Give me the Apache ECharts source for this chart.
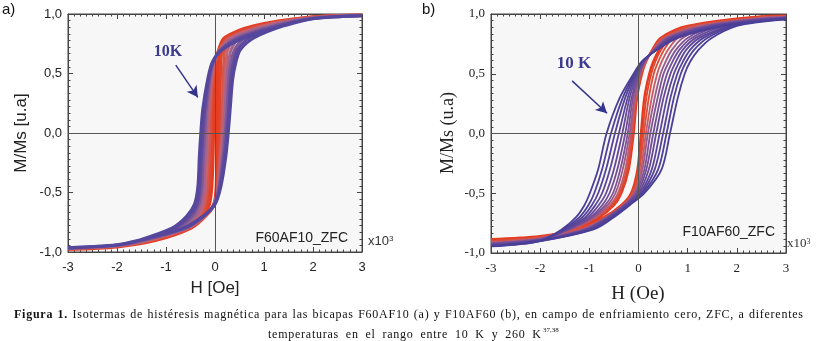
<!DOCTYPE html>
<html>
<head>
<meta charset="utf-8">
<script src="https://cdn.jsdelivr.net/npm/echarts@6.0.0/dist/echarts.min.js"></script>
<style>
  html, body { margin: 0; padding: 0; background: #fff; }
  #chart { width: 817px; height: 341px; }
</style>
</head>
<body>
<div id="chart"></div>
<script>
// H in units of 10^3 Oe, M/Ms normalised
const hTicks = [-3, -2, -1, 0, 1, 2, 3];
const mTicks = [-1, -0.5, 0, 0.5, 1];

// ---- panel a: F60AF10_ZFC, curves from 10 K (first) to 260 K (last) ----
const tempsA = ['10 K', '40 K', '70 K', '100 K', '130 K', '160 K', '200 K', '260 K'];
// descending branch: H read at these M values
const mDownA = [0.9, 0.8, 0.7, 0.6, 0.45, 0.2, 0, -0.2, -0.45, -0.6, -0.7, -0.8, -0.9];
const hDownA = [
  [1.4, 0.6, 0.15, -0.05, -0.15, -0.25, -0.29, -0.32, -0.35, -0.42, -0.58, -0.88, -1.55],
  [1.3, 0.52, 0.13, -0.04, -0.13, -0.21, -0.25, -0.28, -0.31, -0.37, -0.52, -0.82, -1.5],
  [1.2, 0.45, 0.12, -0.03, -0.11, -0.18, -0.21, -0.24, -0.27, -0.33, -0.46, -0.76, -1.45],
  [1.1, 0.38, 0.11, -0.02, -0.09, -0.15, -0.175, -0.2, -0.23, -0.28, -0.4, -0.7, -1.4],
  [1.0, 0.32, 0.1, -0.01, -0.07, -0.12, -0.14, -0.16, -0.19, -0.24, -0.35, -0.64, -1.35],
  [0.95, 0.28, 0.09, 0.0, -0.05, -0.09, -0.105, -0.12, -0.15, -0.2, -0.3, -0.6, -1.3],
  [0.88, 0.24, 0.085, 0.01, -0.03, -0.055, -0.07, -0.085, -0.11, -0.16, -0.27, -0.56, -1.25],
  [0.8, 0.2, 0.08, 0.02, -0.01, -0.025, -0.035, -0.045, -0.07, -0.12, -0.24, -0.52, -1.2]
];
// ascending branch: H read at these M values
const mUpA = [-0.9, -0.8, -0.7, -0.6, -0.45, -0.2, 0, 0.2, 0.45, 0.6, 0.7, 0.8, 0.9];
const hUpA = [
  [-1.55, -0.65, -0.25, 0.0, 0.12, 0.22, 0.27, 0.31, 0.36, 0.43, 0.52, 0.8, 1.4],
  [-1.5, -0.62, -0.24, -0.01, 0.1, 0.19, 0.24, 0.28, 0.32, 0.38, 0.46, 0.7, 1.3],
  [-1.45, -0.6, -0.23, -0.015, 0.085, 0.165, 0.21, 0.245, 0.28, 0.33, 0.4, 0.6, 1.2],
  [-1.4, -0.58, -0.225, -0.02, 0.07, 0.14, 0.18, 0.21, 0.24, 0.28, 0.33, 0.5, 1.1],
  [-1.35, -0.56, -0.22, -0.02, 0.06, 0.115, 0.155, 0.18, 0.2, 0.23, 0.26, 0.42, 1.0],
  [-1.3, -0.54, -0.215, -0.02, 0.05, 0.095, 0.13, 0.15, 0.165, 0.18, 0.2, 0.35, 0.95],
  [-1.25, -0.52, -0.21, -0.02, 0.04, 0.07, 0.09, 0.1, 0.11, 0.12, 0.15, 0.29, 0.88],
  [-1.2, -0.5, -0.2, -0.02, 0.03, 0.04, 0.045, 0.05, 0.06, 0.08, 0.12, 0.24, 0.8]
];
// saturation tails: M at fixed H
const tailHiHA = [3, 2];
const tailHiMA = [
  [0.985, 0.96], [0.986, 0.962], [0.987, 0.965], [0.988, 0.967],
  [0.988, 0.97], [0.989, 0.972], [0.99, 0.974], [0.99, 0.975]
];
const tailLoHA = [-2, -3];
const tailLoMA = [
  [-0.94, -0.965], [-0.942, -0.966], [-0.944, -0.968], [-0.946, -0.97],
  [-0.948, -0.971], [-0.95, -0.972], [-0.952, -0.974], [-0.955, -0.975]
];
const colorsA = ['#54479c', '#60499c', '#7d5898', '#a0648f', '#c46272', '#d65448', '#e0452c', '#e53c22'];
const arrowA = [[-0.8, 0.57], [-0.35, 0.3]];

// ---- panel b: F10AF60_ZFC ----
const tempsB = ['10 K', '30 K', '50 K', '70 K', '90 K', '110 K', '130 K', '150 K', '170 K', '200 K', '230 K', '260 K'];
const mDownB = [0.9, 0.8, 0.7, 0.6, 0.5, 0.3, 0, -0.3, -0.5, -0.6, -0.7, -0.8];
const hDownB = [
  [1.75, 0.8, 0.38, 0.06, -0.1, -0.38, -0.65, -0.82, -0.99, -1.1, -1.27, -1.55],
  [1.7, 0.76, 0.37, 0.07, -0.08, -0.32, -0.56, -0.74, -0.9, -1.02, -1.2, -1.52],
  [1.65, 0.73, 0.36, 0.08, -0.06, -0.27, -0.48, -0.66, -0.82, -0.95, -1.14, -1.5],
  [1.6, 0.7, 0.35, 0.09, -0.04, -0.22, -0.4, -0.58, -0.74, -0.88, -1.08, -1.47],
  [1.5, 0.66, 0.34, 0.1, -0.02, -0.18, -0.33, -0.5, -0.66, -0.81, -1.03, -1.45],
  [1.45, 0.63, 0.33, 0.11, 0.0, -0.14, -0.27, -0.43, -0.59, -0.74, -0.98, -1.42],
  [1.4, 0.6, 0.32, 0.12, 0.02, -0.11, -0.22, -0.37, -0.52, -0.68, -0.94, -1.4],
  [1.3, 0.56, 0.31, 0.13, 0.03, -0.08, -0.18, -0.32, -0.47, -0.63, -0.9, -1.38],
  [1.2, 0.53, 0.3, 0.14, 0.04, -0.06, -0.15, -0.27, -0.42, -0.58, -0.87, -1.36],
  [1.15, 0.5, 0.29, 0.14, 0.05, -0.05, -0.13, -0.24, -0.39, -0.55, -0.84, -1.34],
  [1.05, 0.47, 0.285, 0.15, 0.06, -0.04, -0.11, -0.22, -0.37, -0.52, -0.82, -1.32],
  [1.0, 0.45, 0.28, 0.15, 0.07, -0.03, -0.1, -0.2, -0.35, -0.5, -0.8, -1.3]
];
const mUpB = [-0.8, -0.7, -0.6, -0.5, -0.3, 0, 0.3, 0.5, 0.6, 0.7, 0.8, 0.9];
const hUpB = [
  [-0.9, -0.5, -0.18, 0.12, 0.47, 0.64, 0.8, 0.94, 1.05, 1.22, 1.49, 2.0],
  [-0.93, -0.53, -0.2, 0.09, 0.4, 0.57, 0.72, 0.86, 0.97, 1.13, 1.4, 1.95],
  [-0.96, -0.56, -0.22, 0.06, 0.33, 0.5, 0.65, 0.79, 0.9, 1.05, 1.32, 1.9],
  [-0.99, -0.58, -0.24, 0.03, 0.27, 0.43, 0.58, 0.72, 0.83, 0.97, 1.24, 1.85],
  [-1.02, -0.6, -0.26, 0.0, 0.21, 0.36, 0.51, 0.65, 0.76, 0.9, 1.16, 1.75],
  [-1.05, -0.62, -0.28, -0.03, 0.16, 0.3, 0.45, 0.58, 0.69, 0.83, 1.08, 1.65],
  [-1.08, -0.63, -0.29, -0.06, 0.12, 0.24, 0.39, 0.51, 0.62, 0.76, 1.0, 1.55],
  [-1.11, -0.64, -0.3, -0.08, 0.08, 0.19, 0.33, 0.45, 0.55, 0.68, 0.9, 1.45],
  [-1.14, -0.65, -0.31, -0.1, 0.05, 0.15, 0.27, 0.38, 0.47, 0.6, 0.8, 1.35],
  [-1.18, -0.66, -0.32, -0.12, 0.02, 0.11, 0.21, 0.31, 0.4, 0.52, 0.7, 1.2],
  [-1.22, -0.68, -0.33, -0.14, 0.0, 0.08, 0.16, 0.26, 0.34, 0.46, 0.64, 1.1],
  [-1.25, -0.7, -0.35, -0.15, -0.02, 0.05, 0.12, 0.22, 0.3, 0.42, 0.6, 1.05]
];
const tailHiHB = [3, 2.5];
const tailHiMB = [
  [0.955, 0.935], [0.958, 0.94], [0.96, 0.945], [0.963, 0.948], [0.966, 0.952], [0.97, 0.956],
  [0.972, 0.96], [0.975, 0.965], [0.978, 0.97], [0.98, 0.973], [0.983, 0.977], [0.985, 0.98]
];
const tailLoHB = [-2, -3];
const tailLoMB = [
  [-0.9, -0.945], [-0.9, -0.94], [-0.895, -0.94], [-0.895, -0.935], [-0.89, -0.93], [-0.89, -0.925],
  [-0.885, -0.92], [-0.88, -0.915], [-0.875, -0.91], [-0.87, -0.9], [-0.865, -0.895], [-0.86, -0.885]
];
const colorsB = ['#4a3f98', '#4f419a', '#55439a', '#5c4699', '#654998', '#714d96', '#7f5294', '#9a5a8b',
  '#c65a62', '#d94d3c', '#e2432b', '#e63a1f'];
const arrowB = [[-1.35, 0.44], [-0.64, 0.17]];

// ---- build loops ----
function loopPoints(p, i) {
  const pts = [];
  p.tailHiH.forEach((h, k) => pts.push([h, p.tailHiM[i][k]]));
  p.mDown.forEach((m, k) => pts.push([p.hDown[i][k], m]));
  p.tailLoH.forEach((h, k) => pts.push([h, p.tailLoM[i][k]]));
  for (let k = p.tailLoH.length - 2; k >= 0; k--) pts.push([p.tailLoH[k], p.tailLoM[i][k]]);
  p.mUp.forEach((m, k) => pts.push([p.hUp[i][k], m]));
  for (let k = p.tailHiH.length - 1; k >= 0; k--) pts.push([p.tailHiH[k], p.tailHiM[i][k]]);
  return pts;
}

const panelA = { temps: tempsA, mDown: mDownA, hDown: hDownA, mUp: mUpA, hUp: hUpA,
  tailHiH: tailHiHA, tailHiM: tailHiMA, tailLoH: tailLoHA, tailLoM: tailLoMA, colors: colorsA };
const panelB = { temps: tempsB, mDown: mDownB, hDown: hDownB, mUp: mUpB, hUp: hUpB,
  tailHiH: tailHiHB, tailHiM: tailHiMB, tailLoH: tailLoHB, tailLoM: tailLoMB, colors: colorsB };

const SANS = '"Liberation Sans", Arial, sans-serif';
const SERIF = '"Liberation Serif", "Times New Roman", serif';
const frame = '#444';

function axes(gi, fam) {
  const x = {
    type: 'value', gridIndex: gi, min: hTicks[0], max: hTicks[hTicks.length - 1], interval: 1,
    axisLine: { show: true, onZero: false, lineStyle: { color: frame } },
    axisTick: { show: true, inside: true, length: 5, lineStyle: { color: frame } },
    minorTick: { show: true, splitNumber: 8, length: 2.5, lineStyle: { color: frame } },
    splitLine: { show: false },
    axisLabel: { fontFamily: fam, fontSize: 13, color: '#222', margin: 9 }
  };
  const y = {
    type: 'value', gridIndex: gi, min: mTicks[0], max: mTicks[mTicks.length - 1], interval: 0.5,
    axisLine: { show: true, onZero: false, lineStyle: { color: frame } },
    axisTick: { show: true, inside: true, length: 5, lineStyle: { color: frame } },
    minorTick: { show: true, splitNumber: 9, length: 2.5, lineStyle: { color: frame } },
    splitLine: { show: false },
    axisLabel: { fontFamily: fam, fontSize: 13, color: '#222', margin: 6,
      formatter: v => v.toFixed(1).replace('.', ',') }
  };
  const xTop = Object.assign({}, x, { position: 'top', axisLabel: { show: false } });
  const yRight = Object.assign({}, y, { position: 'right', axisLabel: { show: false } });
  return { x: [x, xTop], y: [y, yRight] };
}

const axA = axes(0, SANS);
const axB = axes(1, SERIF);

function panelSeries(p, axBase, width, arrow) {
  const out = [];
  // zero lines
  out.push({
    type: 'line', xAxisIndex: axBase, yAxisIndex: axBase, data: [[0, 0]], showSymbol: false,
    lineStyle: { opacity: 0 }, silent: true, z: 1,
    markLine: { silent: true, symbol: 'none', animation: false, label: { show: false },
      lineStyle: { color: '#555', width: 1, type: 'solid' },
      data: [{ xAxis: 0 }, { yAxis: 0 }] }
  });
  for (let i = p.temps.length - 1; i >= 0; i--) {
    out.push({
      name: p.temps[i], type: 'line', xAxisIndex: axBase, yAxisIndex: axBase,
      data: loopPoints(p, i), showSymbol: false, smooth: 0.3, z: 2,
      lineStyle: { color: p.colors[i], width: i === p.temps.length - 1 ? width + 0.6 : width },
      emphasis: { disabled: true }
    });
  }
  // arrow pointing to the 10 K loop
  out.push({
    type: 'line', xAxisIndex: axBase, yAxisIndex: axBase, data: [], z: 5, silent: true,
    markLine: { silent: true, symbol: ['none', 'arrow'], symbolSize: [9, 11], animation: false,
      label: { show: false }, lineStyle: { color: '#33358c', width: 1.5, type: 'solid' },
      data: [[{ coord: arrow[0] }, { coord: arrow[1] }]] }
  });
  return out;
}

const series = [].concat(
  panelSeries(panelA, 0, 3, arrowA),
  panelSeries(panelB, 2, 1.8, arrowB)
);

// ---- caption: letter-spaced, justified ----
const mctx = document.createElement('canvas').getContext('2d');
function textW(t, font) { mctx.font = font; return mctx.measureText(t).width; }
function wordLine(words, boldCount, x0, x1, y, track) {
  const fonts = words.map((w, i) => (i < boldCount ? 'bold ' : '') + '12px ' + SERIF);
  const chw = words.map((w, i) => w.split('').map(c => textW(c, fonts[i])));
  const ws = chw.map(a => a.reduce((s, v) => s + v, 0) + track * (a.length - 1));
  const gap = (x1 - x0 - ws.reduce((a, b) => a + b, 0)) / (words.length - 1);
  let x = x0;
  const els = [];
  words.forEach((w, i) => {
    let cx = x;
    w.split('').forEach((c, j) => {
      els.push({ type: 'text', x: cx, y: y, silent: true,
        style: { text: c, font: fonts[i], fill: '#111', verticalAlign: 'middle' } });
      cx += chw[i][j] + track;
    });
    x += ws[i] + gap;
  });
  return els;
}
const cap1 = 'Figura 1. Isotermas de histéresis magnética para las bicapas F60AF10 (a) y F10AF60 (b), en campo de enfriamiento cero, ZFC, a diferentes'.split(' ');
const cap2 = 'temperaturas en el rango entre 10 K y 260 K'.split(' ');

const graphic = [].concat(
  wordLine(cap1, 2, 14, 803, 315, 0.75),
  wordLine(cap2, 0, 268, 541, 335, 0.75),
  [
    { type: 'text', x: 543, y: 330, style: { text: '37,38', font: '7px ' + SERIF, fill: '#111', verticalAlign: 'middle' } },
    { type: 'text', x: 2, y: 10, style: { text: 'a)', font: '15px ' + SANS, fill: '#111', verticalAlign: 'middle' } },
    { type: 'text', x: 422, y: 10, style: { text: 'b)', font: '15px ' + SANS, fill: '#111', verticalAlign: 'middle' } },
    { type: 'text', x: 21, y: 133, rotation: Math.PI / 2,
      style: { text: 'M/Ms [u.a]', font: '17px ' + SANS, fill: '#222', align: 'center', verticalAlign: 'middle' } },
    { type: 'text', x: 448, y: 133, rotation: Math.PI / 2,
      style: { text: 'M/Ms (u.a)', font: '18px ' + SERIF, fill: '#222', align: 'center', verticalAlign: 'middle' } },
    { type: 'text', x: 215, y: 288,
      style: { text: 'H [Oe]', font: '17px ' + SANS, fill: '#222', align: 'center', verticalAlign: 'middle' } },
    { type: 'text', x: 638, y: 294,
      style: { text: 'H (Oe)', font: '19px ' + SERIF, fill: '#222', align: 'center', verticalAlign: 'middle' } },
    { type: 'text', x: 168, y: 52, z: 10,
      style: { text: '10K', font: 'bold 16px ' + SERIF, fill: '#3b3a8c', align: 'center', verticalAlign: 'middle' } },
    { type: 'text', x: 574, y: 64, z: 10,
      style: { text: '10 K', font: 'bold 17px ' + SERIF, fill: '#3b3a8c', align: 'center', verticalAlign: 'middle' } },
    { type: 'text', x: 348, y: 238, z: 10,
      style: { text: 'F60AF10_ZFC', font: '14px ' + SANS, fill: '#222', align: 'right', verticalAlign: 'middle' } },
    { type: 'text', x: 775, y: 232, z: 10,
      style: { text: 'F10AF60_ZFC', font: '14px ' + SANS, fill: '#222', align: 'right', verticalAlign: 'middle' } },
    { type: 'text', x: 368, y: 241,
      style: { text: 'x10{s|3}', font: '13px ' + SANS, fill: '#333', verticalAlign: 'middle',
        rich: { s: { fontSize: 8, fontFamily: SANS, fill: '#333', verticalAlign: 'top' } } } },
    { type: 'text', x: 787, y: 244,
      style: { text: 'x10{s|3}', font: '13px ' + SERIF, fill: '#333', verticalAlign: 'middle',
        rich: { s: { fontSize: 8, fontFamily: SERIF, fill: '#333', verticalAlign: 'top' } } } }
  ]
);

const chart = echarts.init(document.getElementById('chart'), null, { renderer: 'canvas' });
chart.setOption({
  animation: false,
  backgroundColor: '#fff',
  grid: [
    { left: 68, top: 14, width: 294, height: 238, show: true, backgroundColor: '#f7f7f7', borderColor: frame, borderWidth: 1 },
    { left: 491, top: 14, width: 295, height: 239, show: true, backgroundColor: '#f7f7f7', borderColor: frame, borderWidth: 1 }
  ],
  xAxis: axA.x.concat(axB.x),
  yAxis: axA.y.concat(axB.y),
  series: series,
  graphic: graphic
});
</script>
</body>
</html>
